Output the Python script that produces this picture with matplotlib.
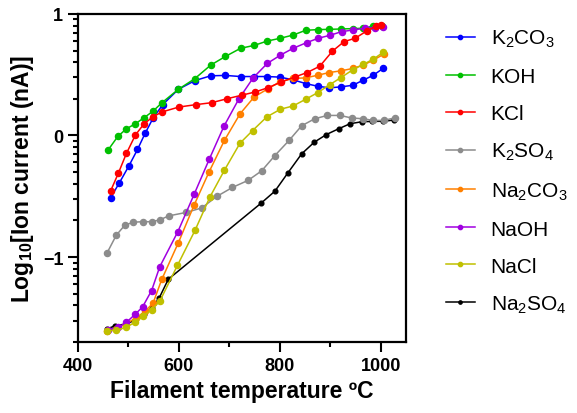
import matplotlib
matplotlib.use('Agg')
import matplotlib.pyplot as plt
import numpy as np

plt.rcParams['font.family'] = ['Liberation Sans', 'DejaVu Sans']
plt.rcParams['mathtext.default'] = 'regular'

# K2CO3
k2co3_t = [465, 482, 501, 518, 533, 549, 568, 599, 632, 663, 692, 722, 749, 775, 800, 826, 851, 875, 898, 921, 944, 965, 985, 1005]
k2co3_y = [-0.51, -0.39, -0.25, -0.115, 0.017, 0.144, 0.254, 0.38, 0.452, 0.491, 0.494, 0.485, 0.485, 0.485, 0.48, 0.458, 0.427, 0.405, 0.392, 0.40, 0.413, 0.455, 0.496, 0.554]
# KOH
koh_t = [460, 479, 496, 514, 531, 549, 566, 599, 631, 663, 692, 722, 749, 775, 800, 826, 851, 875, 898, 921, 944, 965, 985, 1003]
koh_y = [-0.118, -0.008, 0.055, 0.097, 0.146, 0.201, 0.268, 0.38, 0.466, 0.579, 0.65, 0.717, 0.741, 0.777, 0.799, 0.826, 0.865, 0.871, 0.873, 0.876, 0.879, 0.882, 0.90, 0.90]
# KCl
kcl_t = [465, 480, 496, 514, 531, 548, 566, 600, 634, 665, 696, 724, 751, 777, 803, 830, 854, 879, 904, 927, 949, 972, 991, 1001]
kcl_y = [-0.454, -0.311, -0.148, 0.005, 0.096, 0.152, 0.193, 0.234, 0.254, 0.27, 0.303, 0.331, 0.358, 0.394, 0.441, 0.482, 0.518, 0.57, 0.694, 0.772, 0.80, 0.86, 0.90, 0.91]
# K2SO4
k2so4_t = [458, 476, 493, 510, 528, 546, 562, 580, 614, 645, 675, 706, 737, 764, 790, 818, 843, 869, 894, 919, 942, 964, 985, 1006, 1028]
k2so4_y = [-0.964, -0.82, -0.737, -0.713, -0.709, -0.709, -0.694, -0.661, -0.633, -0.596, -0.501, -0.427, -0.369, -0.29, -0.165, -0.041, 0.08, 0.138, 0.165, 0.165, 0.144, 0.138, 0.124, 0.124, 0.146]
# Na2CO3
na2co3_t = [457, 476, 495, 515, 533, 549, 566, 599, 630, 660, 690, 721, 749, 777, 800, 826, 851, 875, 898, 921, 944, 965, 985, 1006]
na2co3_y = [-1.606, -1.592, -1.548, -1.501, -1.446, -1.377, -1.184, -0.881, -0.573, -0.297, -0.041, 0.178, 0.317, 0.386, 0.441, 0.469, 0.474, 0.496, 0.518, 0.532, 0.551, 0.579, 0.62, 0.67]
# NaOH
naoh_t = [460, 480, 496, 514, 528, 546, 562, 598, 630, 660, 689, 719, 747, 775, 801, 826, 853, 876, 899, 922, 945, 968, 988, 1005]
naoh_y = [-1.597, -1.578, -1.537, -1.468, -1.41, -1.275, -1.08, -0.79, -0.485, -0.196, 0.075, 0.303, 0.474, 0.593, 0.661, 0.717, 0.764, 0.80, 0.824, 0.854, 0.868, 0.882, 0.888, 0.896]
# NaCl
nacl_t = [457, 476, 495, 513, 529, 546, 562, 597, 632, 661, 690, 721, 746, 774, 801, 826, 851, 875, 899, 920, 944, 965, 985, 1005]
nacl_y = [-1.606, -1.603, -1.578, -1.537, -1.488, -1.432, -1.364, -1.069, -0.779, -0.509, -0.286, -0.063, 0.041, 0.153, 0.216, 0.243, 0.298, 0.353, 0.419, 0.474, 0.54, 0.585, 0.628, 0.686]
# Na2SO4
na2so4_t = [457, 474, 495, 513, 530, 546, 561, 579, 762, 790, 816, 843, 868, 892, 916, 939, 962, 983, 1005, 1025]
na2so4_y = [-1.592, -1.564, -1.55, -1.52, -1.47, -1.42, -1.336, -1.182, -0.559, -0.458, -0.306, -0.151, -0.055, 0.008, 0.055, 0.097, 0.113, 0.116, 0.117, 0.127]

labels = ['K$_2$CO$_3$', 'KOH', 'KCl', 'K$_2$SO$_4$', 'Na$_2$CO$_3$', 'NaOH', 'NaCl', 'Na$_2$SO$_4$']
colors = ['#0000ff', '#00c000', '#ff0000', '#8c8c8c', '#ff8000', '#a000e0', '#c0c000', '#000000']
series = [(k2co3_t, k2co3_y), (koh_t, koh_y), (kcl_t, kcl_y), (k2so4_t, k2so4_y),
          (na2co3_t, na2co3_y), (naoh_t, naoh_y), (nacl_t, nacl_y), (na2so4_t, na2so4_y)]
zorders = [3, 4, 5, 3, 4, 4, 6, 2]

fig = plt.figure(figsize=(5.77, 4.14), dpi=100)
ax = fig.add_axes([0.135, 0.171, 0.569, 0.793])

handles = []
for (t, y), lab, c, z in zip(series, labels, colors, zorders):
    ms = 3.4 if c == '#000000' else 4.4
    h, = ax.plot(t, y, '-o', color=c, lw=1.1, ms=ms, label=lab, zorder=z)
    handles.append(h)

ax.set_xlim(400, 1050)
ax.set_ylim(-1.7, 1.0)
ax.set_xticks([400, 600, 800, 1000])
ax.set_xticks([500, 700, 900], minor=True)
ax.set_yticks([-1, 0, 1])
minor_y = []
for base in [-2, -1, 0]:
    for k in range(2, 10):
        v = base + np.log10(k)
        if -1.7 <= v <= 1:
            minor_y.append(v)
ax.set_yticks(minor_y, minor=True)

for s in ax.spines.values():
    s.set_linewidth(1.6)
ax.tick_params(which='major', length=7, width=1.5, labelsize=13)
ax.tick_params(which='minor', length=3.6, width=1.5)
for lb in ax.get_xticklabels() + ax.get_yticklabels():
    lb.set_fontweight('bold')

ax.set_xlabel('Filament temperature ºC', fontsize=16.5, fontweight='bold')
ax.set_ylabel('Log$_{10}$[Ion current (nA)]', fontsize=16.5, fontweight='bold', labelpad=5)

leg = fig.legend(handles=handles, loc='upper left', bbox_to_anchor=(0.74, 0.975),
                 frameon=False, fontsize=15, handlelength=1.4, handletextpad=0.75,
                 labelspacing=0.86, markerscale=0.7)

plt.savefig('out.png', dpi=100)
